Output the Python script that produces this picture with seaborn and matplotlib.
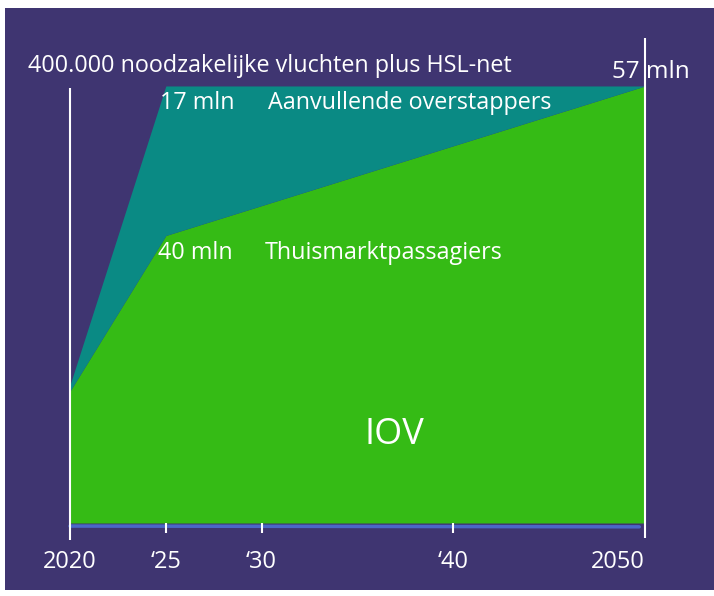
import matplotlib
matplotlib.use("Agg")
import matplotlib.pyplot as plt
import seaborn as sns
import pandas as pd
from matplotlib.patches import Rectangle

# data (mln passagiers)
jaren = [2020, 2025, 2050]
thuismarkt = [17.2, 37.5, 57.0]
totaal = [18.0, 57.0, 57.0]
tick_jaren = [2020, 2025, 2030, 2040, 2050]
tick_labels = ["2020", "\u201825", "\u201830", "\u201840", "2050"]

df = pd.DataFrame({"jaar": jaren, "thuismarkt": thuismarkt, "totaal": totaal})

PAARS = "#3f3571"
GROEN = "#35bb15"
TEAL = "#0a8a84"
BLAUW = "#4a68c8"

sns.set_theme(style="white")
plt.rcParams["font.family"] = ["Open Sans", "DejaVu Sans"]

fig = plt.figure(figsize=(7.14, 5.96), dpi=100)
fig.patch.set_facecolor("white")
fig.patches.append(Rectangle((5 / 714, 6 / 596), 709 / 714, 582 / 596,
                             transform=fig.transFigure, facecolor=PAARS,
                             edgecolor="none", zorder=-10))

ax = fig.add_axes([12.5 / 714, 27 / 596, 690 / 714, 536.7 / 596])
ax.set_zorder(5)
ax.set_facecolor("none")
ax.set_xlim(2017, 2053)
ax.set_ylim(-6, 64)

ax.fill_between(df["jaar"], 0, df["thuismarkt"], color=GROEN, lw=0, zorder=2)
ax.fill_between(df["jaar"], df["thuismarkt"], df["totaal"], color=TEAL, lw=0, zorder=2)

# blauwe basislijn
sns.lineplot(x=[2020, 2049.7], y=[-0.4, -0.5], color=BLAUW, lw=2.5, ax=ax, zorder=3)

# verticale lijnen links en rechts
ax.vlines(2020, -2.2, 56.7, color="white", lw=1.5, zorder=4)
ax.vlines(2050, -2.0, 63.3, color="white", lw=1.5, zorder=4)
ax.vlines([2025, 2030, 2040], -1.3, 0.0, color="white", lw=1.5, zorder=4)

for s in ax.spines.values():
    s.set_visible(False)
ax.set_yticks([])
ax.set_xticks(tick_jaren)
ax.set_xticklabels(tick_labels)
ax.tick_params(axis="x", length=0, pad=-14, labelsize=17, labelcolor="white")
ax.get_xticklabels()[-1].set_ha("right")
ax.get_xticklabels()[-1].set_x(2050.2)
ax.set_xlabel("")
ax.set_ylabel("")

tekst = dict(color="white", va="center", ha="left", zorder=5)
ax.text(2017.81, 59.6, "400.000 noodzakelijke vluchten plus HSL-net", fontsize=16.8, **tekst)
ax.text(2048.28, 58.8, "57 mln", fontsize=17.5, **tekst)
ax.text(2024.7, 54.8, "17 mln", fontsize=16.8, **tekst)
ax.text(2030.33, 54.8, "Aanvullende overstappers", fontsize=16.8, **tekst)
ax.text(2024.59, 35.2, "40 mln", fontsize=16.8, **tekst)
ax.text(2030.17, 35.2, "Thuismarktpassagiers", fontsize=16.8, **tekst)
ax.text(2036.9, 11.5, "IOV", fontsize=26, color="white", va="center", ha="center", zorder=5)

fig.savefig("out.png", dpi=100, facecolor=fig.get_facecolor())
